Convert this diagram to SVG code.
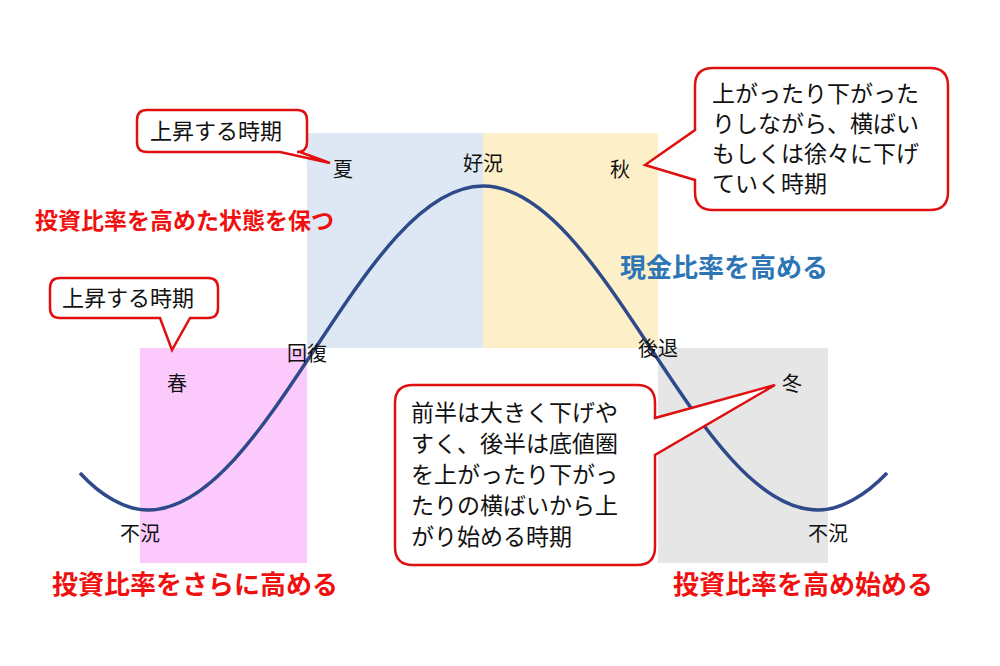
<svg xmlns="http://www.w3.org/2000/svg" width="1000" height="666" viewBox="0 0 1000 666">
<style>
text{font-family:"Noto Sans CJK JP","Noto Sans CJK SC",sans-serif;fill:#111}
.l{font-size:20px}
.b{font-size:23px;font-weight:bold;fill:#f01010}
.bb{font-size:26px}
.c{fill:#fff;stroke:#e01010;stroke-width:2.5}
.t{font-size:22px}
.u{font-size:23px}
</style>
<rect width="1000" height="666" fill="#fff"/>
<g id="seasons">
<rect x="140" y="348" width="167" height="215" fill="#fbc9fb"/>
<rect x="307" y="133" width="176" height="215" fill="#dde8f4"/>
<rect x="483" y="133" width="175" height="215" fill="#fdf0c8"/>
<rect x="658" y="348" width="170" height="215" fill="#e6e6e6"/>
</g>
<g id="connectors">
<path d="M80,473 C100,495 125,510 148,510 C269,510 362,186 483,186 C604,186 697,510 818,510 C841,510 866,495 887,473" fill="none" stroke="#2f4a8a" stroke-width="3.5"/>
</g>
<g id="labels" class="l">
<text x="343" y="177" text-anchor="middle">夏</text>
<text x="483" y="171" text-anchor="middle">好況</text>
<text x="620" y="177" text-anchor="middle">秋</text>
<text x="307" y="361" text-anchor="middle">回復</text>
<text x="658" y="356" text-anchor="middle">後退</text>
<text x="177" y="391" text-anchor="middle">春</text>
<text x="792" y="391" text-anchor="middle">冬</text>
<text x="140" y="541" text-anchor="middle">不況</text>
<text x="828" y="541" text-anchor="middle">不況</text>
</g>
<g id="notes">
<text class="b" x="35" y="229">投資比率を高めた状態を保つ</text>
<text class="b bb" x="620" y="277" style="fill:#2e75b6">現金比率を高める</text>
<text class="b bb" x="52" y="594">投資比率をさらに高める</text>
<text class="b bb" x="673" y="594">投資比率を高め始める</text>
</g>
<g id="callout1">
<path class="c" d="M147,110 H297 Q307,110 307,120 V142 Q307,152 297,152 H300 L330,163 L280,152 H147 Q137,152 137,142 V120 Q137,110 147,110 Z"/>
<text class="t" x="150" y="139">上昇する時期</text>
</g>
<g id="callout2">
<path class="c" d="M60,278 H208 Q218,278 218,288 V308 Q218,318 208,318 H190 L172,350 L160,318 H60 Q50,318 50,308 V288 Q50,278 60,278 Z"/>
<text class="t" x="62" y="306">上昇する時期</text>
</g>
<g id="callout3">
<path class="c" d="M713,68 H930 Q948,68 948,86 V192 Q948,210 930,210 H713 Q695,210 695,192 V180 L645,165 L695,130 V86 Q695,68 713,68 Z"/>
<text class="u" x="712" y="102">上がったり下がった</text>
<text class="u" x="712" y="132">りしながら、横ばい</text>
<text class="u" x="712" y="162">もしくは徐々に下げ</text>
<text class="u" x="712" y="192">ていく時期</text>
</g>
<g id="callout4">
<path class="c" d="M413,385 H637 Q655,385 655,403 V418 L775,385 L655,455 V547 Q655,565 637,565 H413 Q395,565 395,547 V403 Q395,385 413,385 Z"/>
<text class="u" x="411" y="421">前半は大きく下げや</text>
<text class="u" x="411" y="452">すく、後半は底値圏</text>
<text class="u" x="411" y="483">を上がったり下がっ</text>
<text class="u" x="411" y="514">たりの横ばいから上</text>
<text class="u" x="411" y="545">がり始める時期</text>
</g>
</svg>
